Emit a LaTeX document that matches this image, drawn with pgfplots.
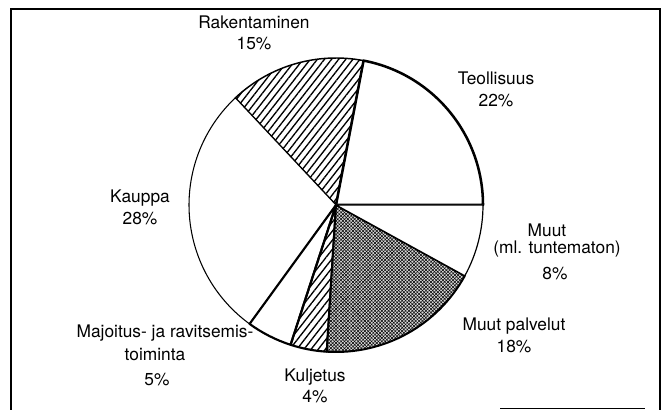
\documentclass[border=0pt]{standalone}
\usepackage{fontspec}
\setmainfont{TeX Gyre Heros}
\usepackage{pgfplots}
\usepackage{pgfplotstable}
\pgfplotsset{compat=1.18}
\usetikzlibrary{patterns.meta}

% share (%), fill style, outline width (pt)
\pgfplotstableread{
share style lw
22 plain 1.9
15 hatch 1.1
28 plain 0.8
5 plain 1.6
4 hatch 1.6
18 dots 1.5
8 plain 0.9
}\piedata

\begin{document}
\begin{tikzpicture}[
  slice/plain/.style={fill=white},
  slice/hatch/.style={pattern={Lines[angle=52,distance=4.2pt,line width=1pt]}},
  slice/dots/.style={preaction={fill=gray!30},
     preaction={pattern={Lines[angle=-45,distance=1.8pt,line width=0.4pt]}},
     pattern={Lines[angle=45,distance=1.8pt,line width=0.4pt]}},
  lab/.style={font=\fontsize{13}{16}\selectfont, align=center, inner sep=0pt}
]
\begin{axis}[x=0.75pt, y=0.75pt, xmin=0, xmax=665, ymin=0, ymax=410,
  hide axis, clip=false, scale only axis]
\addplot[draw=none] coordinates {(0,0) (665,410)};
% frame
\draw[line width=1.4pt] (axis cs:11,0) -- (axis cs:11,401) -- (axis cs:660,401) -- (axis cs:660,0);
\draw[line width=1pt] (axis cs:500,1.5) -- (axis cs:645,1.5);
% pie slices from the table
\pgfplotstablegetrowsof{\piedata}
\pgfmathtruncatemacro\N{\pgfplotsretval-1}
\def\cum{0}
\pgfplotsforeachungrouped \i in {0,...,\N}{%
  \pgfplotstablegetelem{\i}{share}\of\piedata\let\v\pgfplotsretval
  \pgfplotstablegetelem{\i}{style}\of\piedata\let\s\pgfplotsretval
  \pgfplotstablegetelem{\i}{lw}\of\piedata\let\w\pgfplotsretval
  \pgfmathsetmacro\a{3.6*\cum}%
  \pgfmathsetmacro\b{3.6*(\cum+\v)}%
  \edef\temp{\noexpand\draw[line width=\w pt, line join=round, slice/\s]
    (axis cs:336,205) -- ++(\a:110.25pt)
    arc[start angle=\a, end angle=\b, radius=110.25pt] -- cycle;}%
  \temp
  \pgfmathsetmacro\cum{\cum+\v}%
}
% labels
\node[lab] at (axis cs:254,377) {Rakentaminen\\15\%};
\node[lab] at (axis cs:496,320.5) {Teollisuus\\22\%};
\node[lab] at (axis cs:140,202.5) {Kauppa\\28\%};
\node[lab] at (axis cs:547,180) {Muut};
\node[lab] at (axis cs:557,161) {(ml. tuntematon)};
\node[lab] at (axis cs:555,136) {8\%};
\node[lab] at (axis cs:514,74.5) {Muut palvelut\\18\%};
\node[lab] at (axis cs:165,77) {Majoitus- ja ravitsemis-};
\node[lab] at (axis cs:155,55) {toiminta};
\node[lab] at (axis cs:157,30) {5\%};
\node[lab] at (axis cs:315,24) {Kuljetus\\4\%};
\end{axis}
\end{tikzpicture}
\end{document}
